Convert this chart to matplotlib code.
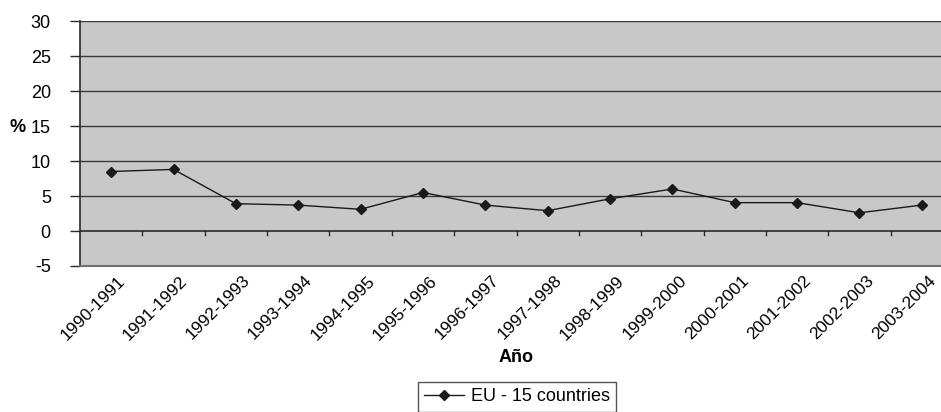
import matplotlib
matplotlib.use("Agg")
import matplotlib.pyplot as plt
from matplotlib.ticker import MultipleLocator

periods = ["1990-1991", "1991-1992", "1992-1993", "1993-1994", "1994-1995",
           "1995-1996", "1996-1997", "1997-1998", "1998-1999", "1999-2000",
           "2000-2001", "2001-2002", "2002-2003", "2003-2004"]
eu15 = [8.5, 8.8, 3.9, 3.7, 3.1, 5.5, 3.7, 2.9, 4.6, 6.0, 4.05, 4.05, 2.6, 3.7]
series_name = "EU - 15 countries"

plt.rcParams["font.family"] = ["Liberation Sans", "DejaVu Sans"]
plt.rcParams["axes.unicode_minus"] = False

W, H = 941, 412
fig = plt.figure(figsize=(W / 100, H / 100), dpi=100)
# plot area runs past the right edge of the picture, as in the reference
left, right, top, bottom = 80, 953, 21, 266
ax = fig.add_axes([left / W, 1 - bottom / H, (right - left) / W, (bottom - top) / H])
ax.set_facecolor("#c8c8c8")

x = list(range(len(periods)))
ax.plot(x, eu15, color="#1a1a1a", linewidth=1.0, marker="D", markersize=5.5,
        markerfacecolor="#1a1a1a", markeredgecolor="#1a1a1a", label=series_name,
        zorder=4)

ax.set_xlim(-0.5, len(periods) - 0.5)
ax.set_ylim(-5, 30)
ax.yaxis.set_major_locator(MultipleLocator(5))
for v in range(5, 31, 5):
    ax.axhline(v, color="#3a3a3a", linewidth=1.0, zorder=1)
ax.axhline(0, color="#2a2a2a", linewidth=1.2, zorder=2)

# category ticks hang down from the zero line
for k in range(1, len(periods)):
    ax.plot([k - 0.5, k - 0.5], [0, -0.55], color="#2a2a2a", linewidth=1.0,
            zorder=2, clip_on=False)

for s in ["top", "right"]:
    ax.spines[s].set_visible(False)
ax.spines["left"].set_color("#2a2a2a")
ax.spines["left"].set_linewidth(1.2)
ax.spines["bottom"].set_color("#707070")
ax.spines["bottom"].set_linewidth(1.5)

ax.tick_params(axis="y", length=7, width=1, color="#2a2a2a", labelsize=13,
               pad=14, direction="out")
ax.set_xticks([i + 0.1 for i in x])
ax.set_xticklabels(periods, rotation=45, ha="right", rotation_mode="anchor",
                   fontsize=12.5)
ax.tick_params(axis="x", length=0, pad=5)

fig.text(18 / W, 1 - 128 / H, "%", fontsize=13, fontweight="bold",
         ha="center", va="center")
fig.text(516 / W, 1 - 357 / H, "Año", fontsize=13, fontweight="bold",
         ha="center", va="center")

leg = fig.legend(loc="upper center", bbox_to_anchor=(517 / W, 1 - 382 / H),
                 frameon=True, fancybox=False, fontsize=13, handlelength=2.2,
                 borderpad=0.35, handletextpad=0.4, borderaxespad=0)
leg.get_frame().set_edgecolor("#2a2a2a")
leg.get_frame().set_linewidth(1.0)

fig.savefig("out.png", dpi=100)
